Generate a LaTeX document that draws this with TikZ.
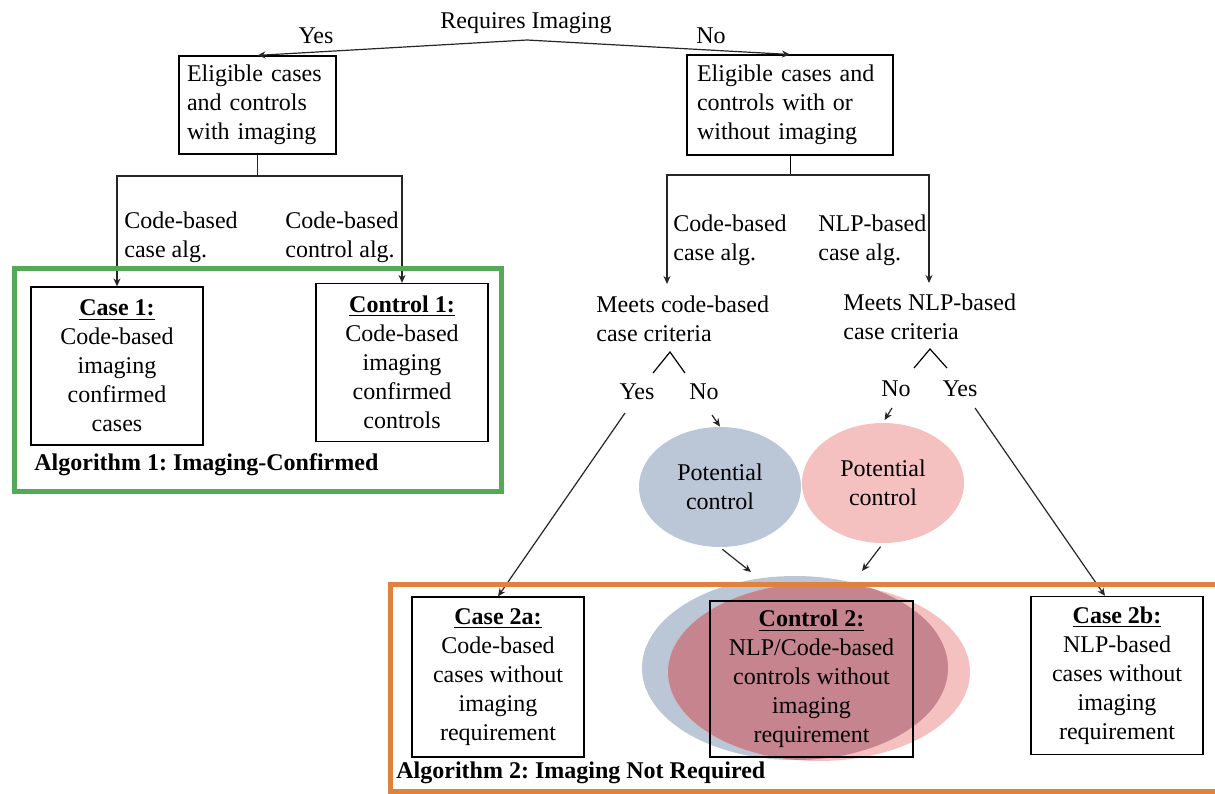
\documentclass[tikz,border=0pt]{standalone}
\usepackage{fontspec}
\setmainfont{Liberation Serif}
\usetikzlibrary{shapes.geometric,arrows.meta}

\definecolor{algA}{RGB}{84,170,84}
\definecolor{algB}{RGB}{222,130,60}
\definecolor{potblue}{RGB}{187,198,214}
\definecolor{potpink}{RGB}{245,192,192}
\definecolor{mixred}{RGB}{198,132,142}

\tikzset{
  elig/.style={draw, line width=0.6pt, align=left, minimum height=49pt},
  grp/.style={draw, line width=0.6pt, align=center, minimum width=86pt, minimum height=79pt, inner sep=2pt},
  lbl/.style={anchor=west, align=left, inner sep=0pt},
  pot/.style={ellipse, align=center, minimum width=81pt, minimum height=60pt, inner sep=0pt},
  arr/.style={->, draw=black!85, line width=0.6pt},
  frame/.style={line width=2.5pt}
}

\begin{document}
\frenchspacing
\begin{tikzpicture}[x=0.5pt,y=-0.5pt,font=\fontsize{12}{14.5}\selectfont,
  >={Stealth[length=4pt,width=3.5pt]}]

\useasboundingbox (0,0) rectangle (1215,793);

% first split
\node (req) at (526,23) {Requires Imaging};
\coordinate (split) at (527,40);
\node (elig1) [elig, text width=70.5pt, inner sep=4pt] at (257.5,105) {Eligible cases\\and controls\\with imaging};
\node (elig2) [elig, text width=93pt, inner sep=5pt] at (790,105) {Eligible cases and\\controls with or\\without imaging};
\draw[arr] (split) -- (elig1.north);
\draw[arr] (split) -- (elig2.north);
\node (yes0) at (316,36) {Yes};
\node (no0) at (711,36) {No};

% algorithm 1
\node (case1) [grp] at (117,366) {\underline{\textbf{Case 1:}}\\Code-based\\imaging\\confirmed\\cases};
\node (ctrl1) [grp] at (402,362.5) {\underline{\textbf{Control 1:}}\\Code-based\\imaging\\confirmed\\controls};
\coordinate (forkL) at (257.5,176);
\draw[arr] (elig1.south) -- (forkL) -| (case1.north);
\draw[arr] (forkL) -| (ctrl1.north);
\node[lbl] (codeA) at (124,237) {Code-based\\case alg.};
\node[lbl] (codeB) at (285,237) {Code-based\\control alg.};
\draw[frame, algA] (14,268) rectangle (501,491);
\node[lbl] (alg1) at (34,465) {\textbf{Algorithm 1: Imaging-Confirmed}};

% algorithm 2
\node[lbl] (meetC) at (596,319) {Meets code-based\\case criteria};
\node[lbl] (meetN) at (843,317) {Meets NLP-based\\case criteria};
\coordinate (forkR) at (790,175);
\coordinate (tipC) at (667,284);
\coordinate (tipN) at (929,283);
\draw (elig2.south) -- (forkR);
\draw[arr] (forkR) -| (tipC);
\draw[arr] (forkR) -| (tipN);
\node[lbl] (codeC) at (673,240) {Code-based\\case alg.};
\node[lbl] (nlpC) at (818,240) {NLP-based\\case alg.};

\draw[line width=0.6pt] (653,373) -- (670,352) -- (685,373);
\draw[line width=0.6pt] (914,368) -- (930,349) -- (947,368);
\node (yesA) at (637,392) {Yes};
\node (noA) at (704,392) {No};
\node (noB) at (896,389) {No};
\node (yesB) at (960,389) {Yes};

\node[pot, fill=potblue] (potA) at (720,487) {Potential\\control};
\node[pot, fill=potpink] (potB) at (883,483) {Potential\\control};
\draw[arr] ([shift={(8,23)}]noA.center) -- (potA.north);
\draw[arr, shorten >=1.5pt] ([shift={(-4,19)}]noB.center) -- (potB.north);

% merged controls
\fill[potblue] (795,668) ellipse [x radius=76.5pt, y radius=46pt];
\fill[potpink] (819,672) ellipse [x radius=75.5pt, y radius=44.5pt];
\begin{scope}
  \clip (795,668) ellipse [x radius=76.5pt, y radius=46pt];
  \fill[mixred] (819,672) ellipse [x radius=75.5pt, y radius=44.5pt];
\end{scope}
\coordinate (mergeA) at (751,572);
\coordinate (mergeB) at (862,571);
\draw[arr, shorten <=1.5pt] (potA.south) -- (mergeA);
\draw[arr, shorten <=2pt] (potB.south) -- (mergeB);

\node (case2a) [grp, minimum height=80pt] at (498,677) {\underline{\textbf{Case 2a:}}\\Code-based\\cases without\\imaging\\requirement};
\node (ctrl2) [grp, minimum width=101.5pt, minimum height=78pt] at (811.5,679) {\underline{\textbf{Control 2:}}\\NLP/Code-based\\controls without\\imaging\\requirement};
\node (case2b) [grp, fill=white] at (1117,675.5) {\underline{\textbf{Case 2b:}}\\NLP-based\\cases without\\imaging\\requirement};
\draw[arr] ([shift={(-12,21)}]yesA.center) -- (case2a.north);
\draw[arr] ([shift={(15,19)}]yesB.center) -- ([xshift=-6pt]case2b.north);

\draw[frame, algB] (390,584) rectangle (1230,791);
\node[lbl] (alg2) at (396,773) {\textbf{Algorithm 2: Imaging Not Required}};

\end{tikzpicture}
\end{document}
